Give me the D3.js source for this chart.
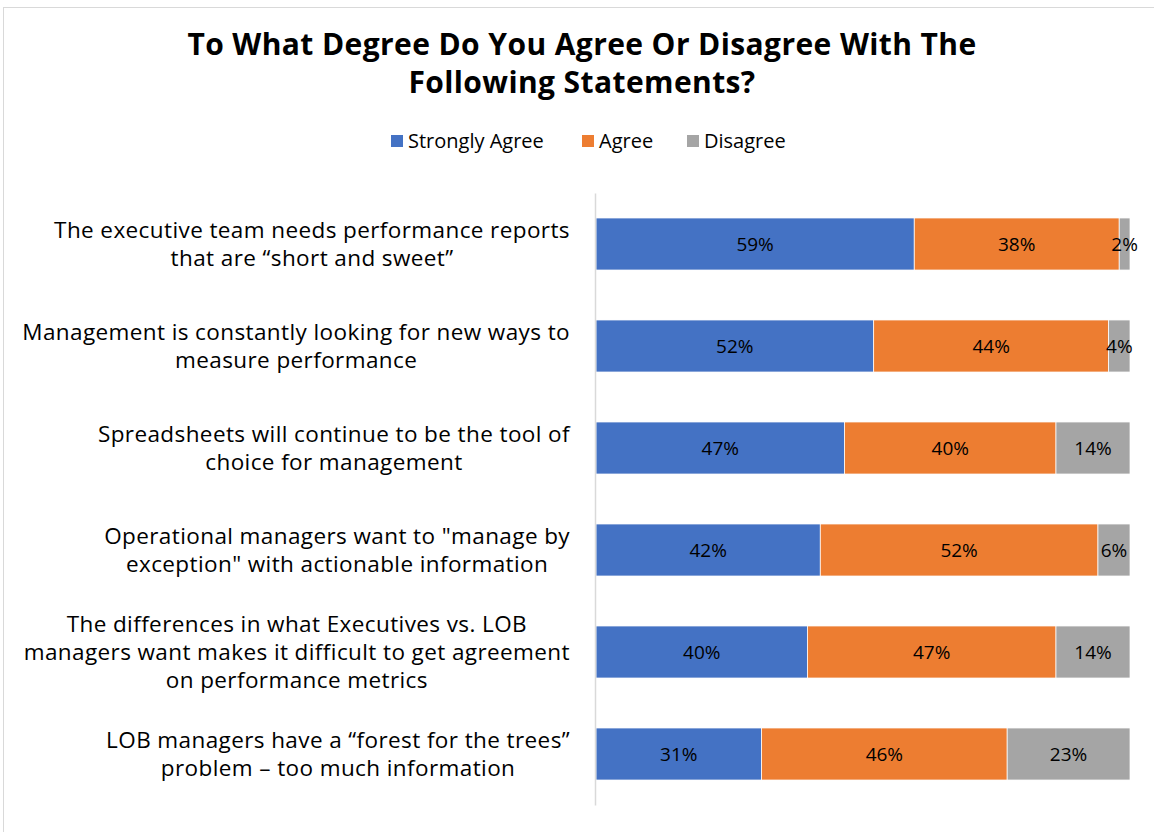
<!DOCTYPE html>
<html>
<head>
<meta charset="utf-8">
<script src="https://cdn.jsdelivr.net/npm/d3@7"></script>
<style>
  html, body { margin: 0; padding: 0; background: #fff; }
  svg { display: block; font-family: "Open Sans", Lato, sans-serif; }
</style>
</head>
<body>
<svg id="chart" width="1154" height="832"></svg>
<script>
const categories = [
  ["The executive team needs performance reports", "that are \u201Cshort and sweet\u201D"],
  ["Management is constantly looking for new ways to", "measure performance"],
  ["Spreadsheets will continue to be the tool of", "choice for management"],
  ["Operational managers want to \"manage by", "exception\" with actionable information"],
  ["The differences in what Executives vs. LOB", "managers want makes it difficult to get agreement", "on performance metrics"],
  ["LOB managers have a \u201Cforest for the trees\u201D", "problem \u2013 too much information"]
];
const seriesNames = ["Strongly Agree", "Agree", "Disagree"];
const stronglyAgree = [59, 52, 47, 42, 40, 31];
const agree = [38, 44, 40, 52, 47, 46];
const disagree = [2, 4, 14, 6, 14, 23];
const colors = ["#4472C4", "#ED7D31", "#A5A5A5"];
const titleLines = ["To What Degree Do You Agree Or Disagree With The", "Following Statements?"];

const svg = d3.select("#chart");
const W = 1154, H = 832;

// outer chart border
svg.append("rect").attr("x", 3.5).attr("y", 7.5).attr("width", W + 10).attr("height", H + 10)
  .attr("fill", "none").attr("stroke", "#d9d9d9").attr("stroke-width", 1);

// title
svg.append("g").selectAll("text").data(titleLines).join("text")
  .attr("x", 582).attr("y", (d, i) => 55 + i * 38)
  .attr("text-anchor", "middle").attr("font-weight", "bold").attr("font-size", 30)
  .attr("letter-spacing", 0.4).attr("fill", "#000").text(d => d);

// data table
const rows = categories.map((c, i) => ({ idx: i, s0: stronglyAgree[i], s1: agree[i], s2: disagree[i] }));
const keys = ["s0", "s1", "s2"];
const stack = d3.stack().keys(keys).offset(d3.stackOffsetExpand);
const series = stack(rows);

const x = d3.scaleLinear().domain([0, 1]).range([596, 1130]);
const y = d3.scaleBand().domain(rows.map(d => d.idx)).range([193, 805]).paddingInner(0.49).paddingOuter(0.245);

// legend
const legendX = [391, 582, 687];
const lg = svg.append("g").selectAll("g").data(seriesNames).join("g")
  .attr("transform", (d, i) => `translate(${legendX[i]},141)`);
lg.append("rect").attr("x", 0).attr("y", -6).attr("width", 12).attr("height", 12).attr("fill", (d, i) => colors[i]);
lg.append("text").attr("x", 17).attr("y", 7).attr("font-size", 20).attr("fill", "#000").text(d => d);

// bars
const gs = svg.append("g").selectAll("g").data(series).join("g").attr("fill", (d, i) => colors[i]);
gs.selectAll("rect").data(d => d).join("rect")
  .attr("x", d => x(d[0])).attr("width", d => x(d[1]) - x(d[0]))
  .attr("y", d => y(d.data.idx)).attr("height", y.bandwidth())
  .attr("stroke", "#fff").attr("stroke-width", 0.75);

// value labels
const vals = [stronglyAgree, agree, disagree];
series.forEach((s, si) => {
  svg.append("g").selectAll("text").data(s).join("text")
    .attr("x", d => (x(d[0]) + x(d[1])) / 2)
    .attr("y", d => y(d.data.idx) + y.bandwidth() / 2 + 7)
    .attr("text-anchor", "middle").attr("font-size", 19).attr("fill", "#000")
    .text(d => vals[si][d.data.idx] + "%");
});

// axis line
const yAxis = d3.axisLeft(y).tickSize(0).tickFormat("");
const ax = svg.append("g").attr("transform", `translate(595,0)`).call(yAxis);
ax.select(".domain").attr("stroke", "#d9d9d9").attr("stroke-width", 1.5);

// category labels: block right-aligned at 570, lines centered within block
const labG = svg.append("g");
rows.forEach(d => {
  const lines = categories[d.idx];
  const cy = y(d.idx) + y.bandwidth() / 2;
  const lh = 28;
  const start = cy - (lines.length - 1) * lh / 2 + 8;
  const t = labG.append("text").attr("font-size", 22.5).attr("letter-spacing", 0.4)
    .attr("fill", "#000").attr("text-anchor", "middle");
  const spans = t.selectAll("tspan").data(lines).join("tspan")
    .attr("y", (s, i) => start + i * lh).text(s => s);
  let maxW = 0;
  spans.each(function() { maxW = Math.max(maxW, this.getComputedTextLength()); });
  spans.attr("x", 570 - maxW / 2);
});
</script>
</body>
</html>
